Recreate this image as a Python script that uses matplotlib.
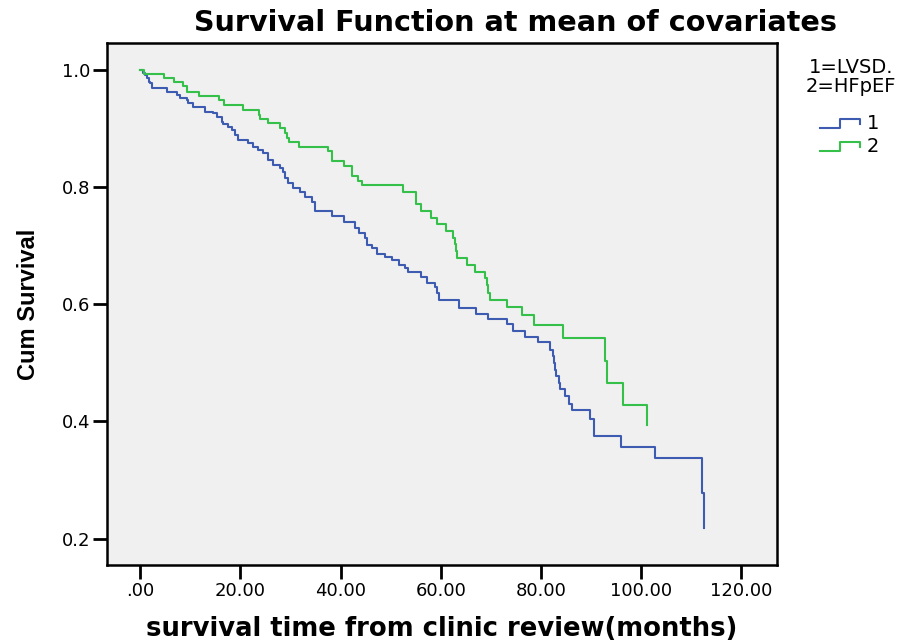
import numpy as np
import matplotlib
matplotlib.use('Agg')
import matplotlib.pyplot as plt
from matplotlib.lines import Line2D
from matplotlib.legend_handler import HandlerLine2D
from matplotlib.ticker import FuncFormatter, FixedLocator

#==============================================================================
# data (step points: time [months], cum survival)
#==============================================================================
t_lvsd = [0.0, 0.5, 0.9, 1.3, 1.7, 2.0, 2.3, 5.3, 7.3, 8.0, 9.3, 9.6, 10.6,
          13.0, 14.6, 15.3, 16.3, 16.6, 17.6, 18.3, 19.0, 19.6, 21.6, 22.5,
          23.6, 24.6, 25.6, 26.6, 27.9, 28.6, 28.9, 29.6, 30.6, 31.9, 32.9,
          34.3, 34.9, 38.3, 40.6, 42.9, 43.6, 44.9, 45.2, 46.2, 47.2, 48.9,
          50.2, 51.6, 52.9, 53.4, 56.0, 57.2, 58.9, 59.3, 59.7, 63.7, 67.1,
          69.5, 73.3, 74.5, 76.8, 79.5, 81.8, 82.3, 82.6, 82.8, 83.0, 83.5,
          83.8, 84.8, 85.5, 86.2, 89.7, 90.5, 95.9, 102.8, 112.2, 112.6]
s_lvsd = [1.000, 0.995, 0.991, 0.986, 0.980, 0.977, 0.970, 0.963, 0.957,
          0.952, 0.949, 0.944, 0.936, 0.929, 0.926, 0.920, 0.912, 0.908,
          0.903, 0.898, 0.889, 0.881, 0.875, 0.868, 0.863, 0.858, 0.846,
          0.838, 0.832, 0.826, 0.815, 0.807, 0.798, 0.792, 0.784, 0.775,
          0.760, 0.751, 0.740, 0.730, 0.721, 0.713, 0.701, 0.696, 0.686,
          0.680, 0.676, 0.667, 0.662, 0.656, 0.647, 0.637, 0.629, 0.620,
          0.608, 0.593, 0.584, 0.575, 0.567, 0.555, 0.545, 0.535, 0.522,
          0.511, 0.500, 0.488, 0.478, 0.466, 0.455, 0.444, 0.430, 0.419,
          0.404, 0.376, 0.357, 0.337, 0.278, 0.218]

t_hfpef = [0.0, 0.7, 4.8, 6.8, 8.6, 9.4, 11.8, 15.8, 16.8, 20.5, 23.8, 24.0,
           25.6, 27.9, 28.9, 29.4, 29.8, 31.7, 37.6, 38.3, 40.6, 42.3, 43.4,
           44.3, 52.4, 55.1, 56.0, 58.1, 59.3, 61.0, 62.4, 62.9, 63.1, 63.2,
           65.2, 66.9, 68.9, 69.3, 69.5, 69.9, 73.2, 76.2, 78.7, 84.4, 92.7,
           93.2, 96.3, 101.1]
s_hfpef = [1.000, 0.993, 0.986, 0.979, 0.972, 0.963, 0.956, 0.948, 0.940,
           0.932, 0.923, 0.916, 0.909, 0.901, 0.893, 0.884, 0.877, 0.869,
           0.861, 0.845, 0.836, 0.819, 0.811, 0.803, 0.792, 0.771, 0.759,
           0.748, 0.737, 0.725, 0.714, 0.703, 0.691, 0.679, 0.667, 0.656,
           0.645, 0.633, 0.620, 0.608, 0.596, 0.581, 0.565, 0.542, 0.503,
           0.465, 0.428, 0.394]

group_labels = ['1', '2']
legend_title = '1=LVSD.\n2=HFpEF'
x_ticks = [0, 20, 40, 60, 80, 100, 120]
y_ticks = [0.2, 0.4, 0.6, 0.8, 1.0]

c_blue = '#3e5bb2'
c_green = '#35c04a'


class StepHandler(HandlerLine2D):
    # little step shaped line for the legend, like the spss one
    def create_artists(self, legend, orig_handle, xdescent, ydescent,
                       width, height, fontsize, trans):
        x0 = -xdescent
        y0 = -ydescent
        xs = [x0, x0 + 0.5*width, x0 + 0.5*width, x0 + width, x0 + width]
        ys = [y0 + 0.05*height, y0 + 0.05*height, y0 + 0.75*height,
              y0 + 0.75*height, y0 + 0.35*height]
        ln = Line2D(xs, ys, color=orig_handle.get_color(),
                    lw=orig_handle.get_linewidth())
        ln.set_transform(trans)
        return [ln]


plt.rcParams['font.family'] = ['DejaVu Sans']

fig = plt.figure(figsize=(9.09, 6.42), dpi=100)
ax = fig.add_axes([0.1177, 0.1199, 0.7371, 0.8131])
ax.set_facecolor('#f0f0f0')

l1, = ax.step(t_lvsd, s_lvsd, where='post', color=c_blue, lw=1.5)
l2, = ax.step(t_hfpef, s_hfpef, where='post', color=c_green, lw=1.5)

ax.set_xlim(-6.6, 127.1)
ax.set_ylim(0.155, 1.046)
ax.xaxis.set_major_locator(FixedLocator(x_ticks))
ax.yaxis.set_major_locator(FixedLocator(y_ticks))
ax.xaxis.set_major_formatter(FuncFormatter(
    lambda v, p: '.00' if v == 0 else '%.2f' % v))
ax.yaxis.set_major_formatter(FuncFormatter(lambda v, p: '%.1f' % v))
ax.tick_params(direction='out', length=10, width=2, labelsize=13,
               color='black', pad=2)
for sp in ax.spines.values():
    sp.set_linewidth(1.8)
    sp.set_color('black')

ax.set_xlabel('survival time from clinic review(months)', fontsize=18.6,
              fontweight='bold', labelpad=12)
ax.set_ylabel('Cum Survival', fontsize=17, fontweight='bold', labelpad=16,
              family=['Liberation Sans Narrow', 'Liberation Sans'])
fig.text(516/909, 1 - 23/642, 'Survival Function at mean of covariates',
         ha='center', va='center', fontsize=20.6, fontweight='bold')

# legend title as separate text, entries below it
fig.text(851/909, 1 - 77/642, legend_title, ha='center', va='center',
         fontsize=14, multialignment='center', linespacing=1.0)
leg = fig.legend([l1, l2], group_labels,
                 loc='upper left', bbox_to_anchor=(820/909, 1 - 114/642),
                 frameon=False, fontsize=14, borderpad=0, borderaxespad=0,
                 handler_map={Line2D: StepHandler()},
                 handlelength=2.05, handletextpad=0.35, labelspacing=0.2)

plt.savefig('out.png', dpi=100)
